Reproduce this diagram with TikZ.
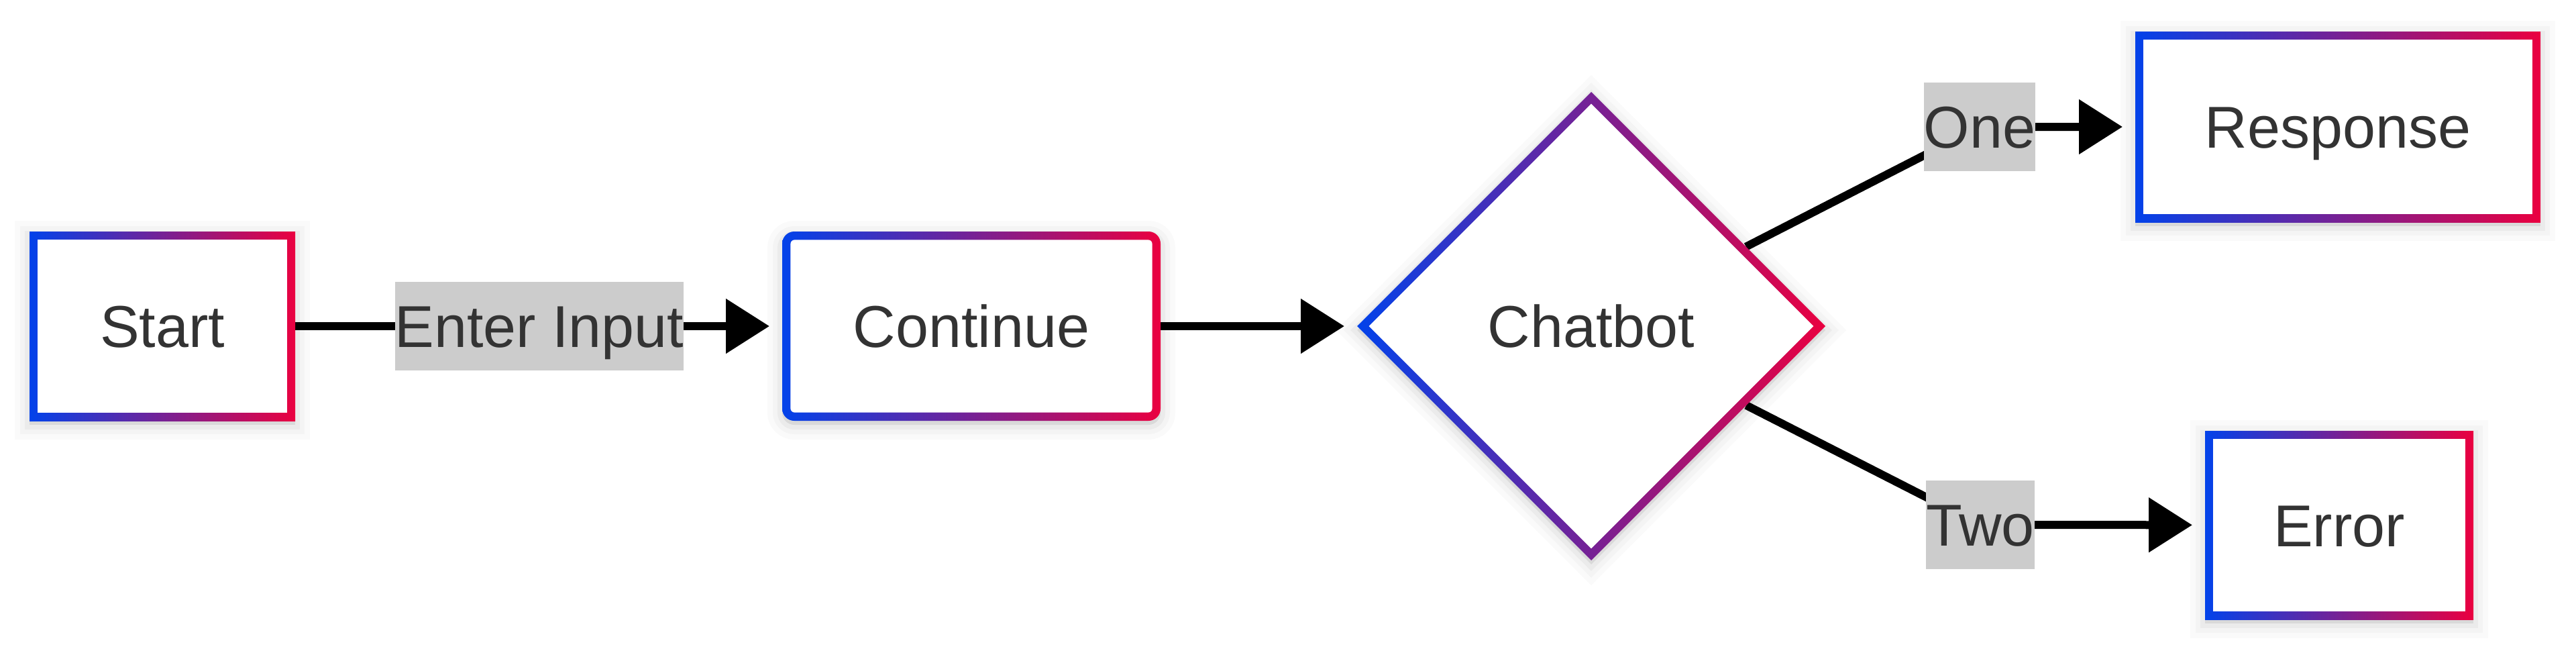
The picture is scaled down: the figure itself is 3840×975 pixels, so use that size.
\documentclass[tikz,border=0pt]{standalone}
\usepackage{fontspec}
\setmainfont{Liberation Sans}
\usetikzlibrary{shapes.geometric,arrows.meta,shadows}
\definecolor{cblue}{RGB}{2,66,234}
\definecolor{cred}{RGB}{234,0,64}
\definecolor{ctext}{HTML}{333333}
\definecolor{clabel}{HTML}{CCCCCC}
\pgfdeclarelayer{bg}
\pgfsetlayers{bg,main}
\tikzset{
  softshadow/.style={
    general shadow={fill=black, draw=black, line width=11pt, opacity=0.018, shadow yshift=-1.5pt},
    general shadow={fill=black, draw=black, line width=7pt, opacity=0.025, shadow yshift=-1.5pt},
    general shadow={fill=black, draw=black, line width=3.5pt, opacity=0.035, shadow yshift=-1.5pt}},
  basenode/.style={inner sep=0pt, outer sep=0pt, text=ctext,
    font=\fontsize{22}{26}\selectfont, text height=15.75pt, text depth=0pt,
    softshadow, left color=cblue, right color=cred},
  gradbox/.style={basenode, rectangle,
    path picture={\fill[white] ([shift={(3.1pt,3.1pt)}]path picture bounding box.south west)
      rectangle ([shift={(-3.1pt,-3.1pt)}]path picture bounding box.north east);}},
  gradround/.style={basenode, rectangle, rounded corners=4.5pt,
    path picture={\fill[white, rounded corners=1.5pt] ([shift={(3.1pt,3.1pt)}]path picture bounding box.south west)
      rectangle ([shift={(-3.1pt,-3.1pt)}]path picture bounding box.north east);}},
  graddiamond/.style={basenode, diamond, aspect=1,
    path picture={\fill[white] ([xshift=4.4pt]path picture bounding box.west)
      -- ([yshift=-4.4pt]path picture bounding box.north)
      -- ([xshift=-4.4pt]path picture bounding box.east)
      -- ([yshift=4.4pt]path picture bounding box.south) -- cycle;}},
  edgelabel/.style={fill=clabel, inner xsep=0pt, inner ysep=0pt, outer sep=0pt,
    minimum height=33pt, text=ctext, font=\fontsize{22}{26}\selectfont,
    text height=15.75pt, text depth=0pt},
  conn/.style={draw=black, line width=3pt, shorten >=4.75pt,
    -{Triangle[length=16.25pt, width=19.75pt]}},
}
\begin{document}
\begin{tikzpicture}[x=0.25pt, y=-0.25pt]
\useasboundingbox (0,0) rectangle (3840,975);
\node[gradbox, minimum width=99pt, minimum height=70.5pt] (start) at (242,486) {Start};
\node[gradround, minimum width=141pt, minimum height=70.5pt] (continue) at (1448,486) {Continue};
\node[graddiamond, minimum width=174.5pt, minimum height=174.5pt] (chatbot) at (2372,486) {Chatbot};
\node[gradbox, minimum width=151pt, minimum height=71pt] (response) at (3485,189) {Response};
\node[gradbox, minimum width=100pt, minimum height=70.25pt] (error) at (3487,782.5) {Error};
\node[edgelabel] (lenter) at (804,486) {Enter Input};
\node[edgelabel] (lone) at (2951,189) {One};
\node[edgelabel] (ltwo) at (2952,782) {Two};
\begin{pgfonlayer}{bg}
\draw[conn] (start) -- (lenter.center) -- (continue);
\draw[conn] (continue) -- (chatbot);
\draw[conn] (chatbot) -- (lone.center) -- (response);
\draw[conn] (chatbot) -- (ltwo.center) -- (error);
\end{pgfonlayer}
\end{tikzpicture}
\end{document}
